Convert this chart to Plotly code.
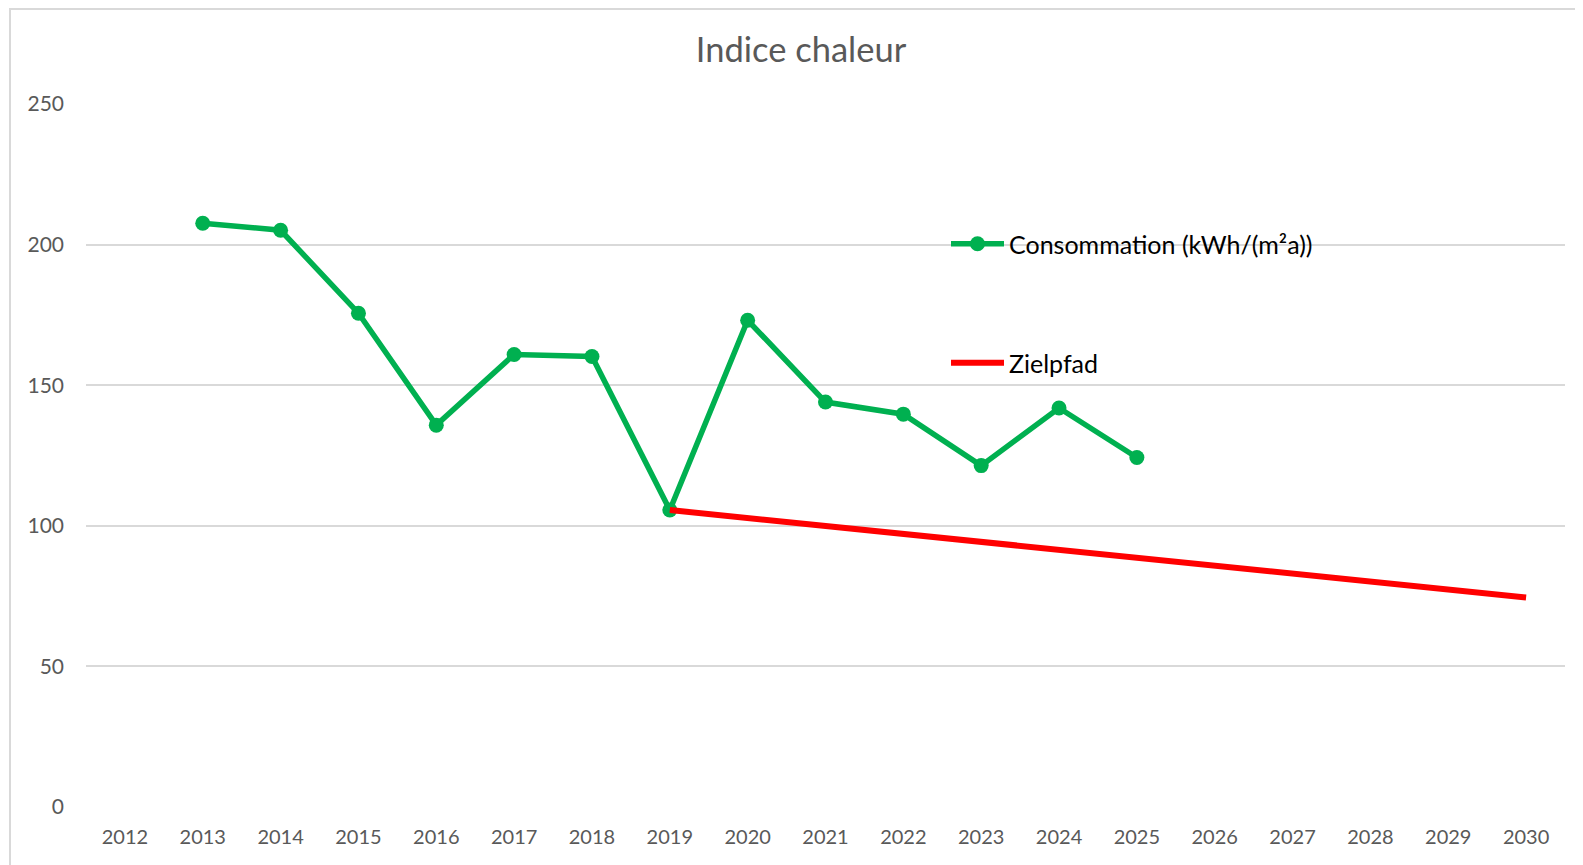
import plotly.graph_objects as go

# data
years = list(range(2012, 2031))

conso_years = [2013, 2014, 2015, 2016, 2017, 2018, 2019, 2020, 2021, 2022, 2023, 2024, 2025]
conso_vals = [207.6, 205.1, 175.6, 135.8, 160.9, 160.2, 105.6, 173.1, 144.0, 139.7, 121.4, 141.9, 124.3]

ziel_years = [2019, 2020, 2021, 2022, 2023, 2024, 2025, 2026, 2027, 2028, 2029, 2030]
ziel_vals = [105.6, 102.8, 100.0, 97.1, 94.3, 91.5, 88.7, 85.9, 83.1, 80.2, 77.4, 74.5]

y_ticks = [0, 50, 100, 150, 200, 250]

FONT = "Lato"
GREY = "#595959"

# the page body has an 8px margin, so the figure is 8px smaller each way
W, H = 1575, 857
L, T, R, B = 78, 96, 18, 58
plot_w = W - L - R
plot_h = H - T - B

fig = go.Figure()

fig.add_trace(go.Scatter(
    x = conso_years,
    y = conso_vals,
    mode = "lines+markers",
    name = "Consommation (kWh/(m²a))",
    line = dict(color = "#00B050", width = 5.5),
    marker = dict(color = "#00B050", size = 15),
    showlegend = True,
    legend = "legend")
)

fig.add_trace(go.Scatter(
    x = ziel_years,
    y = ziel_vals,
    mode = "lines",
    name = "Zielpfad",
    line = dict(color = "#FF0000", width = 6),
    showlegend = True,
    legend = "legend2")
)

# chart frame (left + top edges visible, others run off the page)
fig.add_shape(type = "rect", xref = "paper", yref = "paper",
    x0 = (2 - L) / plot_w, x1 = 1.03,
    y0 = -0.12, y1 = (plot_h + T - 1) / plot_h,
    fillcolor = "rgba(0,0,0,0)", line = dict(color = "#d9d9d9", width = 2), layer = "below")

legend_font = dict(family = FONT, size = 25, color = "black")

fig.update_layout(
    width = W,
    height = H,
    showlegend = True,
    margin = dict(l = L, r = R, t = T, b = B),
    paper_bgcolor = "white",
    plot_bgcolor = "white",
    font = dict(family = FONT, color = GREY),
    title = dict(
        text = "Indice chaleur",
        x = (801 - 8) / W, xanchor = "center",
        y = 1 - 42 / H, yanchor = "middle", yref = "container",
        font = dict(family = FONT, size = 34.5, color = GREY)),
    xaxis = dict(
        range = [2011.5, 2030.5],
        tickmode = "array",
        tickvals = years,
        ticktext = [str(y) for y in years],
        showgrid = False,
        zeroline = False,
        showline = False,
        ticks = "",
        ticklabelstandoff = 16,
        tickfont = dict(size = 20, color = GREY)),
    yaxis = dict(
        range = [0, 250],
        tickmode = "array",
        tickvals = y_ticks,
        showgrid = True,
        gridcolor = "#d9d9d9",
        gridwidth = 1.5,
        zeroline = False,
        showline = False,
        ticks = "",
        ticklabelstandoff = 21,
        tickfont = dict(size = 21, color = GREY)),
    legend = dict(
        x = (946 - 86) / plot_w, xanchor = "left",
        y = (807 - 244) / plot_h, yanchor = "middle",
        itemwidth = 53,
        bgcolor = "rgba(0,0,0,0)",
        font = legend_font),
    legend2 = dict(
        x = (946 - 86) / plot_w, xanchor = "left",
        y = (807 - 363) / plot_h, yanchor = "middle",
        itemwidth = 53,
        bgcolor = "rgba(0,0,0,0)",
        font = legend_font),
)

fig.write_html("out.html")
